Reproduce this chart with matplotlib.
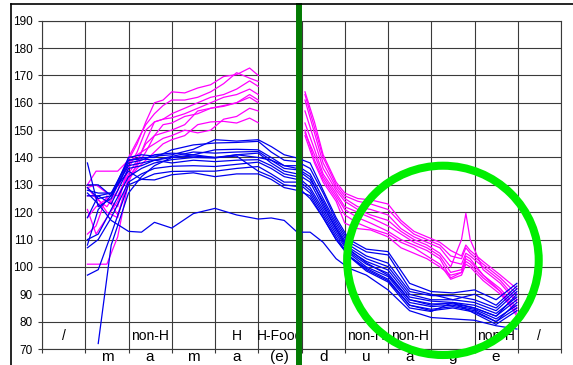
import matplotlib
matplotlib.use("Agg")
import matplotlib.pyplot as plt
import matplotlib.transforms as mtransforms
import numpy as np
from matplotlib.patches import Ellipse
from matplotlib.lines import Line2D

plt.rcParams['font.family'] = ['Liberation Sans', 'DejaVu Sans']

nan = np.nan

# x positions, in category-column units (column i spans i..i+1)
x_left = [1.05, 1.25, 1.5, 1.75, 2.0, 2.2, 2.4, 2.6, 2.8, 3.0, 3.3, 3.6, 3.9, 4.2, 4.5, 4.8, 5.0]
x_right = [6.08, 6.3, 6.5, 6.8, 7.0, 7.3, 7.6, 8.0, 8.3, 8.6, 8.9, 9.2, 9.45, 9.7, 9.8, 9.9, 10.2, 10.6, 10.98]
x_blue = [1.05, 1.3, 1.6, 2.0, 2.3, 2.6, 3.0, 3.5, 4.0, 4.5, 5.0, 5.3, 5.6, 5.9, 6.2, 6.5,
          6.8, 7.1, 7.5, 8.0, 8.5, 9.0, 9.5, 10.0, 10.5, 10.98]

# magenta series, part before the break
magenta_left = [
    [130, 135, 135, 135, 139, 145, 153, 160, 161, 164, 163.6, 165.4, 166.6, 169.6, 170.3, 172.7, 170],
    [129, 125, 122, 128, 140, 146, 152, 156, 159, 161, 161, 162, 164, 167, 171, 169, 167.8],
    [121, 112, 118, 124, 136, 142, 150, 153, 154, 156, 158, 160, 162, 163, 165, 168, 166],
    [101, 101, 101, 111, 131, 138, 146, 153, 154, 154.5, 156, 158, 160, 162, 163, 165, 163],
    [126, 126, 120, 118, 133, 137, 142, 148, 152, 152.6, 155, 156, 158, 159, 160, 163, 161],
    [129, 130, 127, 126, 134, 139, 145, 148, 149, 150, 152, 157, 158, 158.7, 160, 162, 160],
    [118, 122, 125, 122, 138, 141, 143, 145, 147, 148, 150, 149, 150, 154, 155, 158, 157],
    [112, 115, 126, 119, 132, 136, 139, 142, 145, 146.5, 148, 152, 153, 153.2, 152.6, 154.4, 152.7],
]

# magenta series, part after the break
magenta_right = [
    [164, 153, 141, 131, 127, 125, 124.5, 123, 117, 113, 111, 109, 106, 104, 108, 106, 102, 97, 92],
    [163, 151, 140, 130, 126, 124, 123, 121, 116, 112, 110, 108, 104, 103, 107, 105, 101, 96, 90],
    [161, 149, 138, 129, 125, 122, 121, 119, 114, 111, 109, 107, 102, 101, 105, 104, 100, 95, 88],
    [157, 146, 136, 128, 124, 121, 119, 117, 113, 110, 108, 105, 100, 110, 119.6, 110, 99, 94, 87],
    [152.6, 143, 134, 127, 122, 120, 118, 115, 112, 109, 107, 104, 98, 99, 104, 103, 97, 92, 85],
    [149, 141, 133, 126, 121, 118, 116, 113, 110, 108, 106, 103, 96, 98, 102, 101, 96, 91, 84],
    [150, 139, 132, 125, 119, 116, 114, 112, 109, 107, 104, 101, 95.5, 97, 101, 100, 95, 90, 83],
    [148, 138, 131, 124, 116, 114, 113.5, 111, 107, 105, 103, 100, 97, 98, 103, 102, 97, 91, 82],
]

blue = [
    [130, 130, 126, 140, 141, 140.5, 141, 143, 146.5, 146, 146.5, 144, 141, 139.8, 138, 128, 118, 110, 106.5, 105.6, 94, 91, 90.5, 91.6, 88, 94],
    [128, 127, 127, 139, 140, 140, 142.8, 144.6, 145.3, 145.5, 145.9, 142, 139, 138.5, 136, 127, 117, 109, 105.5, 104.4, 92, 90, 88, 90, 86, 93],
    [138, 122, 125, 138, 139, 141, 141.6, 141, 142.8, 143, 142.8, 140, 137, 137, 134, 125, 116, 108, 104, 101.4, 91, 89.5, 89.5, 88, 85, 92],
    [126, 126, 123, 136, 137, 139, 140.4, 142, 141.6, 142, 142.2, 139, 136, 135.5, 132, 124, 115, 107, 103, 100.1, 90, 88, 88, 87, 84, 91],
    [110, 112, 121, 133, 136, 138, 139.2, 140, 139.8, 141, 141.6, 138, 135, 134, 131, 122, 114, 106, 102, 98.9, 89, 87.5, 87, 86, 83, 89],
    [108, 121, 126, 139, 139.5, 139, 138, 139, 138.5, 139, 139.2, 137, 134, 133, 129, 121, 113, 105.5, 101, 97.7, 88, 86.5, 86.5, 85, 82, 88],
    [107, 110, 118, 131, 134, 136, 136.8, 137, 136.7, 137.5, 138.3, 136, 133, 132, 128, 120, 112, 105, 100, 96.5, 87, 85.5, 86, 84.5, 81, 86],
    [97, 99, 112, 130, 132, 134, 134.9, 135, 135, 136, 136.7, 134, 131, 131, 127, 119, 111, 104, 99.5, 95.5, 86, 84.5, 85.5, 84, 80, 85],
    [129, 125, 126, 137, 138, 139, 140, 141, 140, 140.5, 135, 133, 130, 129.4, 125, 118, 110, 103.8, 98.5, 94.5, 85, 83.7, 87, 83, 79, 84],
    [118, 126, 127, 135, 132, 131.8, 133.7, 134.4, 133, 134, 134, 132, 129, 128, 126, 118, 110, 104, 99, 95, 86, 84, 85, 83.5, 80, 87],
    [nan, 72, 108, 127, 133, 137, 140, 140.5, 140, 141, 140, 139, 137, 136, 133, 123, 114, 106.5, 101.5, 97, 88, 86, 87, 85, 82, 90],
    [127, 123, 117, 113, 112.7, 116.3, 114.2, 119.5, 121.4, 119, 117.5, 117.9, 117, 112.7, 112.7, 109, 103, 99.5, 97, 91.6, 84, 81.5, 81, 80.5, 78.5, 77.3],
]

categories = ['', 'm', 'a', 'm', 'a', '(e)', 'd', 'u', 'a', 'g', 'e', '']
cell_labels = ['/', '', 'non-H', '', 'H', 'H-Food', '', 'non-H', 'non-H', '', 'non-H', '/']
y_ticks = list(range(70, 191, 10))

W, H = 573, 365
fig = plt.figure(figsize=(W / 100, H / 100), dpi=100)
ax = fig.add_axes([42 / W, 16 / H, (561 - 42) / W, (349 - 20.7) / H])

grid_color = '#3a3a3a'
ax.set_xlim(0, 12)
ax.set_ylim(70, 190)
ax.set_xticks(range(13))
ax.set_xticklabels([])
ax.set_yticks(y_ticks)
ax.set_yticklabels([str(v) for v in y_ticks], fontsize=8.5)
ax.tick_params(axis='both', direction='out', length=3, width=0.8, color=grid_color)
ax.tick_params(axis='y', pad=3.5)
ax.grid(True, color=grid_color, linewidth=0.8)
ax.set_axisbelow(True)
for sp in ax.spines.values():
    sp.set_color(grid_color)
    sp.set_linewidth(0.8)

# series
for vals in magenta_left:
    ax.plot(x_left, vals, color='#ff00ff', lw=0.9, zorder=3)
for vals in magenta_right:
    ax.plot(x_right, vals, color='#ff00ff', lw=0.9, zorder=3)
for vals in blue:
    ax.plot(x_blue, vals, color='#0000ee', lw=0.9, zorder=3)

# labels inside the bottom row of cells
for i, lab in enumerate(cell_labels):
    if lab:
        ax.text(i + 0.5, 74.8, lab, ha='center', va='center', fontsize=10, zorder=2)

# category labels under the axis
trans = mtransforms.blended_transform_factory(ax.transData, ax.transAxes)
for i, lab in enumerate(categories):
    if lab:
        ax.text(i + 0.5, -0.004, lab, ha='center', va='top', fontsize=11,
                transform=trans, clip_on=False)

# dark green break line
ax.axvline(5.95, ymin=-0.06, ymax=1.046, color='#037b03', lw=4.3, zorder=5, clip_on=False)

# bright green circle
ax.add_patch(Ellipse((9.27, 102.4), 4.43, 69.2, fill=False, edgecolor='#00ee00',
                     lw=5.8, zorder=6, clip_on=False))

# outer chart frame
fig.add_artist(Line2D([11 / W, 1.0], [1 - 4 / H, 1 - 4 / H], color='black', lw=1.2))
fig.add_artist(Line2D([11 / W, 11 / W], [0, 1 - 4 / H], color='black', lw=1.2))

fig.savefig('out.png', dpi=100)
